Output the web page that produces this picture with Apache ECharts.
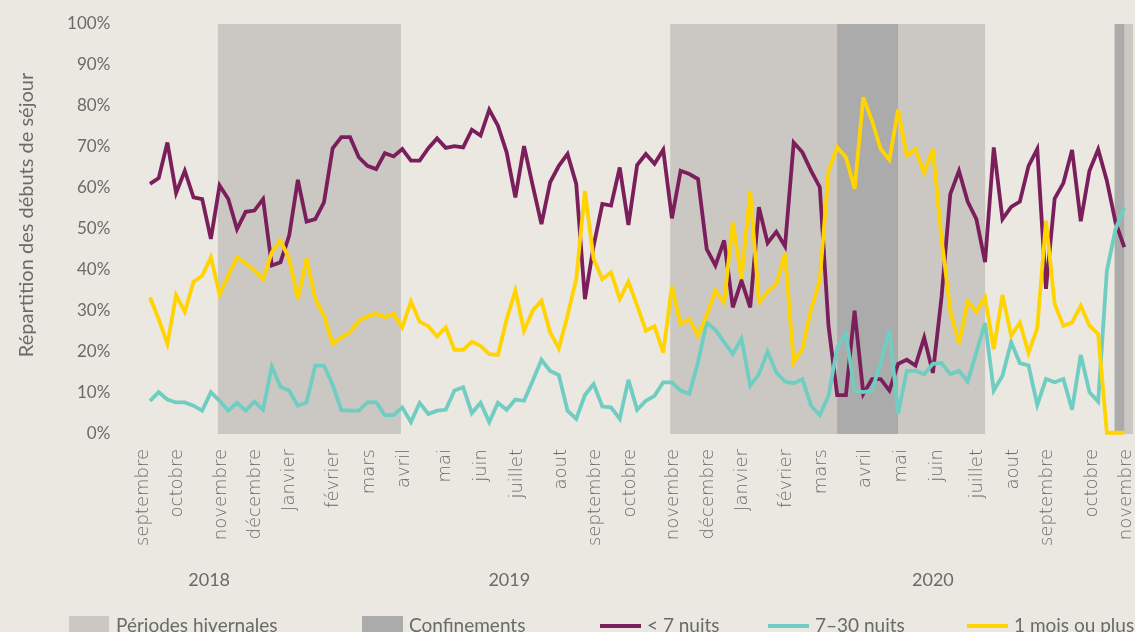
<!DOCTYPE html>
<html><head><meta charset="utf-8">
<script src="https://cdn.jsdelivr.net/npm/echarts@6/dist/echarts.min.js"></script>
<style>html,body{margin:0;padding:0;background:#EBE7E1;}#chart{width:1135px;height:632px;}</style>
</head><body><div id="chart"></div>
<script>
// Weekly shares (%) of stay starts, week 0 = early September 2018
const shortStays = [61.0,62.4,71.1,58.8,64.2,57.7,57.3,47.6,60.6,57.3,50.0,54.2,54.5,57.3,41.1,41.9,48.4,62.0,51.8,52.4,
56.5,69.7,72.4,72.4,67.5,65.4,64.6,68.5,67.7,69.5,66.7,66.7,69.7,72.1,69.8,70.2,69.9,74.2,72.8,79.1,
75.2,68.7,57.7,70.2,60.6,51.2,61.4,65.4,68.3,61.0,32.9,45.9,56.1,55.7,65.0,51.0,65.6,68.3,65.9,69.3,
52.6,64.2,63.4,62.2,45.1,41.1,47.2,30.9,37.4,30.9,55.3,46.6,49.3,45.8,71.1,68.7,64.2,60.2,26.4,9.5,
9.5,30.1,9.8,13.4,13.4,10.6,17.1,18.1,16.7,23.5,14.9,33.5,58.5,64.2,56.7,52.4,41.9,69.9,52.4,55.4,
56.7,65.4,69.5,35.4,57.4,61.2,69.3,51.9,64.2,69.4,61.8,51.6,45.6];
const midStays = [8.1,10.2,8.4,7.7,7.7,6.9,5.7,10.2,8.1,5.7,7.6,5.7,7.9,5.9,16.5,11.5,10.6,6.9,7.7,16.7,
16.7,12.0,5.8,5.7,5.7,7.7,7.7,4.6,4.6,6.5,2.9,7.6,4.9,5.7,5.9,10.6,11.4,5.1,7.6,2.9,
7.6,5.9,8.4,8.1,13.0,18.1,15.4,14.4,5.7,3.7,9.5,12.2,6.7,6.5,3.7,13.2,5.9,8.1,9.3,12.6,
12.6,10.6,9.8,17.5,27.2,25.4,22.4,19.5,23.3,11.8,14.6,20.1,15.0,12.8,12.4,13.4,6.9,4.6,9.3,21.1,
24.4,10.6,10.2,10.6,17.5,25.4,4.9,15.4,15.4,14.6,17.1,17.3,14.6,15.4,12.8,19.9,27.1,10.6,14.2,22.4,
17.3,16.7,7.1,13.4,12.6,13.4,5.9,19.3,10.2,7.9,39.8,50.0,55.3];
const longStays = [33.3,28.0,22.0,33.9,29.8,37.1,38.6,43.1,34.1,38.6,43.1,41.7,39.8,37.8,44.3,47.2,42.7,32.9,42.9,32.9,
28.9,22.0,23.6,24.8,27.6,28.7,29.3,28.5,29.3,26.0,32.3,27.4,26.3,23.8,26.0,20.5,20.5,22.5,21.5,19.5,
19.3,28.0,35.0,25.2,30.1,32.5,24.8,20.9,28.9,37.8,59.3,42.7,37.8,39.4,32.9,37.1,31.3,25.2,26.3,19.9,
36.0,26.8,28.0,24.0,28.9,35.0,32.1,51.6,37.8,59.3,32.1,34.7,36.6,44.1,17.5,20.7,30.5,37.4,64.2,69.9,
67.5,59.8,82.1,76.4,69.5,66.9,79.1,67.9,69.5,63.7,69.5,47.6,30.1,22.0,32.3,29.8,33.3,20.7,33.9,24.0,
27.1,19.8,25.8,52.0,31.7,26.4,27.2,31.3,26.4,24.4,0.3,0.3,0.3];

const monthLabels = ['septembre','octobre','novembre','décembre','Janvier','février','mars','avril','mai','juin','juillet','aout',
'septembre','octobre','novembre','décembre','Janvier','février','mars','avril','mai','juin','juillet','aout','septembre','octobre','novembre'];
const monthPositions = [-0.8,3.1,8.2,12.1,16.0,21.05,25.2,29.2,34.0,38.1,42.25,47.3,51.2,55.2,60.2,64.2,68.1,73.1,77.2,82.2,86.4,90.5,95.1,99.3,103.2,108.3,112.2];
const yearLabels = ['2018','2019','2020'];
const yearPositions = [6.8,41.3,90.0];
const winterPeriods = [[7.8,28.85],[59.8,96.0],[110.9,113]];
const lockdownPeriods = [[79.0,86.0],[110.9,112.0]];
const seriesNames = ['< 7 nuits','7–30 nuits','1 mois ou plus'];
const seriesColors = ['#7A1F5C','#6FCDC2','#FFD400'];

const chart = echarts.init(document.getElementById('chart'));
const grey = '#6a6a6a';
const toPts = arr => arr.map((v,i)=>[i,v]);
const lineSeries = [shortStays, midStays, longStays].map((arr,k)=>({
  name: seriesNames[k], type:'line', data: toPts(arr), showSymbol:false, z:5+k,
  itemStyle:{color:seriesColors[k]},
  lineStyle:{color:seriesColors[k], width:3.8, join:'miter', miterLimit:4},
  emphasis:{disabled:true}, silent:true
}));
const legendBase = {top:616, padding:0, selectedMode:false, itemGap:0,
  textStyle:{color:grey, fontFamily:'Lato', fontSize:19, lineHeight:20, padding:[0,0,0,1]}};
chart.setOption({
  animation:false,
  backgroundColor:'#EBE7E1',
  grid:{left:141.3, top:24, width:991.8, height:410},
  xAxis:[{
    type:'value', min:-1, max:113,
    axisLine:{show:false}, axisTick:{show:false}, splitLine:{show:false},
    axisLabel:{customValues:monthPositions, rotate:90, margin:15, color:grey,
      fontFamily:'DejaVu Sans', fontWeight:300, fontSize:18,
      formatter:(v)=>{const j=monthPositions.indexOf(v); return j>=0?monthLabels[j]:'';}}
  },{
    type:'value', min:-1, max:113, position:'bottom',
    axisLine:{show:false}, axisTick:{show:false}, splitLine:{show:false},
    axisLabel:{customValues:yearPositions, margin:137, color:grey, fontFamily:'Lato', fontSize:18,
      formatter:(v)=>{const j=yearPositions.indexOf(v); return j>=0?yearLabels[j]:'';}}
  }],
  yAxis:{type:'value', min:0, max:100, interval:10,
    axisLine:{show:false}, axisTick:{show:false}, splitLine:{show:false},
    axisLabel:{formatter:'{value}%', color:grey, fontFamily:'Lato', fontSize:17, margin:31},
    name:'Répartition des débuts de séjour', nameLocation:'middle', nameGap:105,
    nameTextStyle:{color:grey, fontFamily:'Lato', fontSize:20, padding:[0,0,0,28]}
  },
  legend:[
    Object.assign({}, legendBase, {left:69, data:['Périodes hivernales'], icon:'rect', itemWidth:40, itemHeight:20,
      textStyle:Object.assign({}, legendBase.textStyle, {padding:[0,0,0,2]})}),
    Object.assign({}, legendBase, {left:362, data:['Confinements'], icon:'rect', itemWidth:41, itemHeight:20}),
    Object.assign({}, legendBase, {left:600, data:[seriesNames[0]], icon:'rect', itemWidth:41, itemHeight:4}),
    Object.assign({}, legendBase, {left:768, data:[seriesNames[1]], icon:'rect', itemWidth:41, itemHeight:4}),
    Object.assign({}, legendBase, {left:967, data:[seriesNames[2]], icon:'rect', itemWidth:41, itemHeight:4})
  ],
  series:[
    {name:'Périodes hivernales', type:'line', data:[], z:1, silent:true,
      itemStyle:{color:'#CBC8C3'}, lineStyle:{color:'#CBC8C3'},
      markArea:{silent:true, itemStyle:{color:'#CBC8C3'},
        data: winterPeriods.map(p=>[{xAxis:p[0]},{xAxis:p[1]}])}},
    {name:'Confinements', type:'line', data:[], z:2, silent:true,
      itemStyle:{color:'#ABABAB'}, lineStyle:{color:'#ABABAB'},
      markArea:{silent:true, itemStyle:{color:'#ABABAB'},
        data: lockdownPeriods.map(p=>[{xAxis:p[0]},{xAxis:p[1]}])}}
  ].concat(lineSeries)
});
</script></body></html>
